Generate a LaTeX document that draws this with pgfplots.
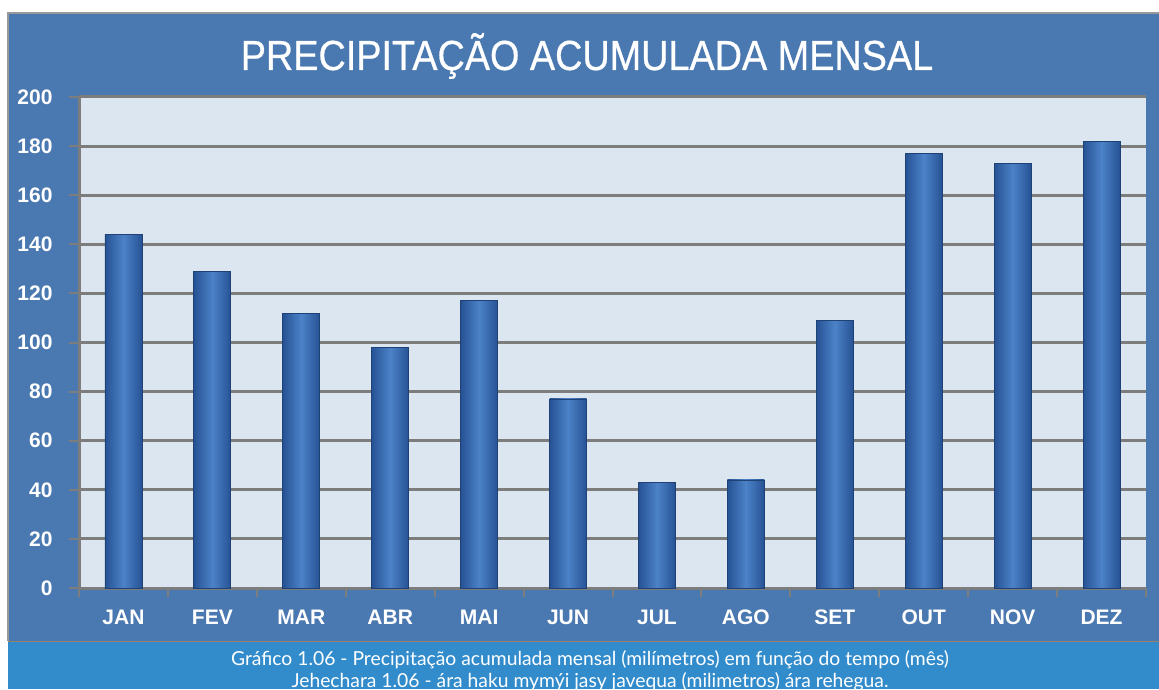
\documentclass[border=0pt]{standalone}
\usepackage{pgfplots}
\pgfplotsset{compat=1.18}
\usepackage{fontspec}
\setmainfont{Liberation Sans}
\newfontfamily\titlefont[FakeStretch=0.9,FakeBold=0.6]{Liberation Sans}
\newfontfamily\capfont{Lato}

\definecolor{frameblue}{RGB}{74,120,176}
\definecolor{capblue}{RGB}{50,140,204}
\definecolor{plotbg}{RGB}{219,230,241}
\definecolor{gridgray}{RGB}{125,125,125}
\definecolor{bardark}{RGB}{38,82,148}
\definecolor{barlight}{RGB}{76,130,200}

\pgfplotsset{
  mybar/.style={ybar, bar width=37pt, bar shift=0pt,
    left color=bardark, right color=bardark, middle color=barlight,
    draw=bardark!80!black, line width=0.8pt, forget plot},
}

\begin{document}
\begin{tikzpicture}[x=1pt,y=1pt]
\useasboundingbox (0,0) rectangle (1159,689);
\fill[white] (0,0) rectangle (1159,689);
% frame and caption band
\fill[frameblue] (8,48) rectangle (1159,676);
\draw[gray!80, line width=1.5pt] (8,48) -- (8,676) -- (1159,676);
\fill[capblue] (8,0) rectangle (1159,47);
\draw[gray!60!brown, line width=1.2pt] (8,47.5) -- (1159,47.5);
\fill[plotbg] (79,101) rectangle (1146,592);

\node[text=white, font=\titlefont\fontsize{42}{42}\selectfont] at (587,633) {PRECIPITAÇÃO ACUMULADA MENSAL};

\begin{axis}[
    at={(79pt,101pt)}, anchor=south west,
    scale only axis,
    width=1067pt, height=491pt,
    xmin=0.5, xmax=12.5,
    ymin=0, ymax=200,
    ytick={0,20,...,200},
    xtick={1,...,12},
    xticklabels={JAN,FEV,MAR,ABR,MAI,JUN,JUL,AGO,SET,OUT,NOV,DEZ},
    minor xtick={0.5,1.5,...,12.5},
    axis lines*=left,
    axis line style={-, draw=gridgray, line width=3pt},
    ymajorgrids,
    grid style={gridgray, line width=3pt},
    tick align=outside,
    major tick length=10pt,
    minor tick length=9pt,
    major x tick style={draw=none},
    minor x tick style={draw=gridgray, line width=2pt},
    major y tick style={draw=gridgray, line width=2pt},
    /pgf/number format/assume math mode=true,
    ticklabel style={text=white, font=\bfseries\fontsize{21}{21}\selectfont},
    xticklabel style={anchor=north, text height=15pt, text depth=0pt, yshift=-8pt},
    yticklabel style={xshift=-13pt},
]
\addplot[mybar] coordinates {(1,144)};
\addplot[mybar] coordinates {(2,129)};
\addplot[mybar] coordinates {(3,112)};
\addplot[mybar] coordinates {(4,98)};
\addplot[mybar] coordinates {(5,117)};
\addplot[mybar] coordinates {(6,77)};
\addplot[mybar] coordinates {(7,43)};
\addplot[mybar] coordinates {(8,44)};
\addplot[mybar] coordinates {(9,109)};
\addplot[mybar] coordinates {(10,177)};
\addplot[mybar] coordinates {(11,173)};
\addplot[mybar] coordinates {(12,182)};
\end{axis}

\node[text=white, font=\capfont\fontsize{19.3}{22}\selectfont, anchor=base]
  at (590,24) {Gráfico 1.06 - Precipitação acumulada mensal (milímetros) em função do tempo (mês)};
\node[text=white, font=\capfont\fontsize{19.3}{22}\selectfont, anchor=base]
  at (590,2) {Jehechara 1.06 - ára haku mymýi jasy javequa (milimetros) ára rehegua.};
\end{tikzpicture}
\end{document}
